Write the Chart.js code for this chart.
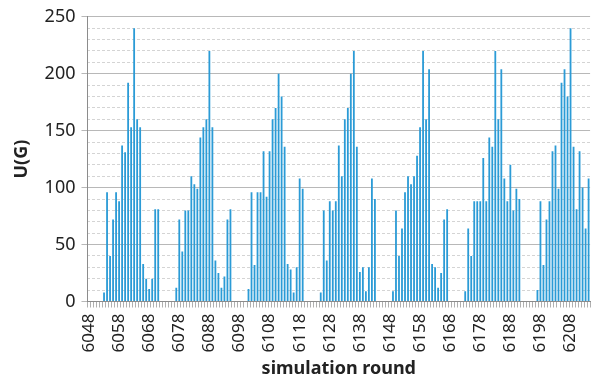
<!DOCTYPE html>
<html>
<head>
<meta charset="utf-8">
<script src="https://cdn.jsdelivr.net/npm/chart.js@4.4.1/dist/chart.umd.min.js"></script>
<style>
    html, body { margin: 0; padding: 0; background: #fff; overflow: hidden; }
    body { width: 597px; height: 380px; }
    #wrap { width: 615px; height: 380px; }
</style>
</head>
<body>
<div id="wrap"><canvas id="uChart"></canvas></div>
<script>
// simulation rounds 6048 .. 6214
const firstRound = 6048;
const lastRound = 6214;
const rounds = [];
for (let r = firstRound; r <= lastRound; r++) rounds.push(String(r));

// U(G) per round, one block per cycle, five empty rounds between cycles
const gap = [0, 0, 0, 0, 0];
const cycle1 = [8, 96, 40, 72, 96, 88, 137, 131, 192, 153, 240, 160, 153, 33, 20, 11, 20, 81, 81];
const cycle2 = [12, 72, 44, 80, 80, 110, 103, 99, 144, 153, 160, 220, 153, 36, 25, 12, 22, 72, 81];
const cycle3 = [11, 96, 32, 96, 96, 132, 92, 132, 160, 170, 200, 180, 136, 33, 28, 8, 30, 108, 99];
const cycle4 = [8, 80, 36, 88, 80, 88, 137, 110, 160, 170, 200, 220, 136, 26, 30, 9, 30, 108, 90];
const cycle5 = [9, 80, 40, 64, 96, 110, 103, 110, 128, 153, 220, 160, 204, 33, 30, 12, 25, 72, 81];
const cycle6 = [9, 64, 40, 88, 88, 88, 126, 88, 144, 136, 220, 160, 204, 108, 88, 120, 80, 99, 90];
const cycle7 = [10, 88, 32, 72, 88, 132, 137, 99, 192, 204, 180, 240, 136, 81, 132, 100, 64, 108];

const uValues = [
    ...gap, ...cycle1, ...gap, ...cycle2, ...gap, ...cycle3, ...gap, ...cycle4,
    ...gap, ...cycle5, ...gap, ...cycle6, ...gap, ...cycle7
];

const yMax = 250;
const labelEvery = 10;

const ctx = document.getElementById('uChart').getContext('2d');
new Chart(ctx, {
    type: 'bar',
    data: {
        labels: rounds,
        datasets: [{
            data: uValues,
            backgroundColor: '#2b9bd6',
            barPercentage: 0.6,
            categoryPercentage: 1.0
        }]
    },
    options: {
        responsive: true,
        maintainAspectRatio: false,
        animation: false,
        layout: { padding: { top: 8, left: 11, right: 0, bottom: 0 } },
        plugins: {
            legend: { display: false },
            tooltip: { enabled: false }
        },
        scales: {
            x: {
                grid: {
                    drawOnChartArea: false,
                    drawTicks: true,
                    tickLength: 6,
                    color: '#b0b0b0'
                },
                border: { color: '#8c8c8c' },
                ticks: {
                    autoSkip: false,
                    minRotation: 90,
                    maxRotation: 90,
                    padding: 6,
                    color: '#222',
                    font: { family: 'Noto Sans', size: 17 },
                    callback: function(value, index) {
                        return index % labelEvery === 0 ? this.getLabelForValue(value) : '';
                    }
                },
                title: {
                    display: true,
                    text: 'simulation round',
                    color: '#222',
                    font: { family: 'Noto Sans', size: 18, weight: 'bold' },
                    padding: { top: 0, bottom: 0 }
                }
            },
            y: {
                min: 0,
                max: yMax,
                ticks: {
                    stepSize: 50,
                    color: '#222',
                    padding: 6,
                    font: { family: 'Noto Sans', size: 18 }
                },
                grid: { color: '#b8b8b8', tickLength: 6 },
                border: { color: '#8c8c8c' },
                title: {
                    display: true,
                    text: 'U(G)',
                    color: '#222',
                    font: { family: 'Noto Sans', size: 18, weight: 'bold' },
                    padding: { top: 0, bottom: 6 }
                }
            },
            yMinor: {
                position: 'left',
                min: 0,
                max: yMax,
                ticks: { display: false, stepSize: 10 },
                grid: {
                    drawTicks: false,
                    color: function(c) {
                        return c.tick && c.tick.value % 50 === 0 ? 'rgba(0,0,0,0)' : '#d4d4d4';
                    }
                },
                border: { display: false, dash: [3, 2] }
            }
        }
    }
});
</script>
</body>
</html>
